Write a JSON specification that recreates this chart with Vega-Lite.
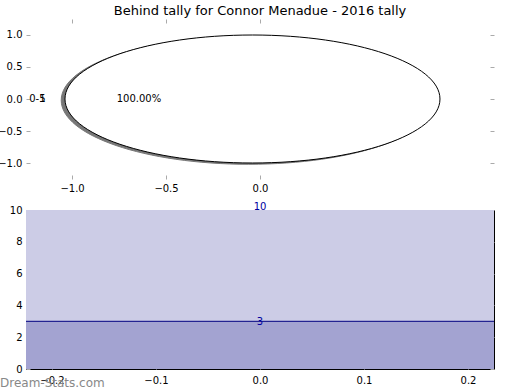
{
  "$schema": "https://vega.github.io/schema/vega-lite/v6.json",
  "background": "white",
  "padding": {"left": -3, "top": 4, "right": 0, "bottom": 0},
  "bounds": "flush",
  "spacing": 31,
  "resolve": {"scale": {"fill": "independent", "stroke": "independent"}},
  "config": {
    "font": "DejaVu Sans",
    "axis": {
      "labelFont": "DejaVu Sans",
      "labelFontSize": 10,
      "labelColor": "black",
      "tickColor": "#aaaaaa",
      "tickSize": -4,
      "labelPadding": 8,
      "domain": false,
      "grid": false,
      "title": null,
      "labelFlush": false,
      "labelOverlap": false
    },
    "title": {"font": "DejaVu Sans", "fontSize": 12, "fontWeight": "normal", "color": "black"}
  },
  "vconcat": [
    {
      "width": 468,
      "height": 160,
      "title": {"text": "Behind tally for Connor Menadue - 2016 tally", "anchor": "middle", "frame": "group", "offset": 1, "fontSize": 13},
      "view": {"stroke": null},
      "layer": [
        {
          "data": {"values": [
            {"layer": "shadow", "cx": -0.06, "cy": -0.02},
            {"layer": "wedge", "cx": -0.04, "cy": 0}
          ]},
          "mark": {
            "type": "point",
            "shape": "M-1,0C-1,-0.1885,-0.5523,-0.3413,0,-0.3413C0.5523,-0.3413,1,-0.1885,1,0C1,0.1885,0.5523,0.3413,0,0.3413C-0.5523,0.3413,-1,0.1885,-1,0Z",
            "size": 140625,
            "filled": true,
            "opacity": 1,
            "strokeWidth": 1
          },
          "encoding": {
            "x": {"field": "cx", "type": "quantitative", "scale": {"domain": [-1.245, 1.245], "nice": false, "zero": false},
                  "axis": {"orient": "bottom", "values": [-1, -0.5, 0], "format": ".1f"}},
            "y": {"field": "cy", "type": "quantitative", "scale": {"domain": [-1.245, 1.245], "nice": false, "zero": false},
                  "axis": {"orient": "left", "values": [-1, -0.5, 0, 0.5, 1], "format": ".1f"}},
            "fill": {"field": "layer", "type": "nominal", "scale": {"domain": ["shadow", "wedge"], "range": ["#777777", "#ffffff"]}, "legend": null},
            "stroke": {"field": "layer", "type": "nominal", "scale": {"domain": ["shadow", "wedge"], "range": ["#777777", "#000000"]}, "legend": null}
          }
        },
        {
          "data": {"values": [
            {"label": "100.00%", "lx": -0.644, "ly": 0}
          ]},
          "mark": {"type": "text", "fontSize": 10, "font": "DejaVu Sans", "color": "black", "align": "center", "baseline": "middle"},
          "encoding": {
            "x": {"field": "lx", "type": "quantitative", "axis": {"orient": "top", "labels": false, "values": [-1, -0.5, 0]}},
            "y": {"field": "ly", "type": "quantitative", "axis": {"orient": "right", "labels": false, "values": [-1, -0.5, 0, 0.5, 1]}},
            "text": {"field": "label"}
          }
        },
        {
          "data": {"values": [
            {"label": "0-5", "lx": -1.141, "ly": 0},
            {"label": "1", "lx": -1.141, "ly": 0}
          ]},
          "mark": {"type": "text", "fontSize": 10, "font": "DejaVu Sans", "color": "black", "align": "right", "baseline": "middle"},
          "encoding": {
            "x": {"field": "lx", "type": "quantitative", "axis": null},
            "y": {"field": "ly", "type": "quantitative", "axis": null},
            "text": {"field": "label"}
          }
        }
      ],
      "resolve": {"axis": {"x": "independent", "y": "independent"}}
    },
    {
      "width": 468,
      "height": 159,
      "title": {"text": "Dream-Stats.com", "orient": "bottom", "anchor": "start", "frame": "group", "dx": -26, "offset": 0, "dy": -7, "fontSize": 12, "color": "#888888"},
      "view": {"stroke": "black", "strokeWidth": 1},
      "data": {"values": [
        {"group": "total", "count": 10, "left": -0.225, "right": 0.225},
        {"group": "behind", "count": 3, "left": -0.225, "right": 0.225}
      ]},
      "layer": [
        {
          "mark": {"type": "rect"},
          "encoding": {
            "x": {"field": "left", "type": "quantitative", "scale": {"domain": [-0.225, 0.225], "nice": false, "zero": false},
                  "axis": {"orient": "bottom", "values": [-0.2, -0.1, 0, 0.1, 0.2], "format": ".1f", "labelPadding": 10}},
            "x2": {"field": "right"},
            "y": {"field": "count", "type": "quantitative", "scale": {"domain": [0, 10], "nice": false},
                  "axis": {"orient": "left", "values": [0, 2, 4, 6, 8, 10], "format": "d"}},
            "y2": {"datum": 0},
            "fill": {"field": "group", "type": "nominal", "scale": {"domain": ["total", "behind"], "range": ["#CCCCE6", "#A3A3D1"]}, "legend": null}
          }
        },
        {
          "transform": [{"filter": "datum.group == 'behind'"}],
          "mark": {"type": "rule", "color": "#000080", "strokeWidth": 1},
          "encoding": {
            "x": {"field": "left", "type": "quantitative", "axis": {"orient": "top", "labels": false, "values": [-0.2, -0.1, 0, 0.1, 0.2]}},
            "x2": {"field": "right"},
            "y": {"field": "count", "type": "quantitative", "axis": {"orient": "right", "labels": false, "values": [0, 2, 4, 6, 8, 10]}}
          }
        },
        {
          "transform": [{"filter": "datum.group == 'total'"}],
          "mark": {"type": "text", "fontSize": 10, "font": "DejaVu Sans", "color": "#0000A0", "align": "center", "baseline": "alphabetic", "dy": 0},
          "encoding": {
            "x": {"datum": 0, "type": "quantitative", "axis": null},
            "y": {"field": "count", "type": "quantitative", "axis": null},
            "text": {"field": "count", "type": "quantitative"}
          }
        },
        {
          "transform": [{"filter": "datum.group == 'behind'"}],
          "mark": {"type": "text", "fontSize": 10, "font": "DejaVu Sans", "color": "#0000A0", "align": "center", "baseline": "alphabetic", "dy": 4},
          "encoding": {
            "x": {"datum": 0, "type": "quantitative", "axis": null},
            "y": {"field": "count", "type": "quantitative", "axis": null},
            "text": {"field": "count", "type": "quantitative"}
          }
        }
      ],
      "resolve": {"axis": {"x": "independent", "y": "independent"}}
    }
  ]
}
